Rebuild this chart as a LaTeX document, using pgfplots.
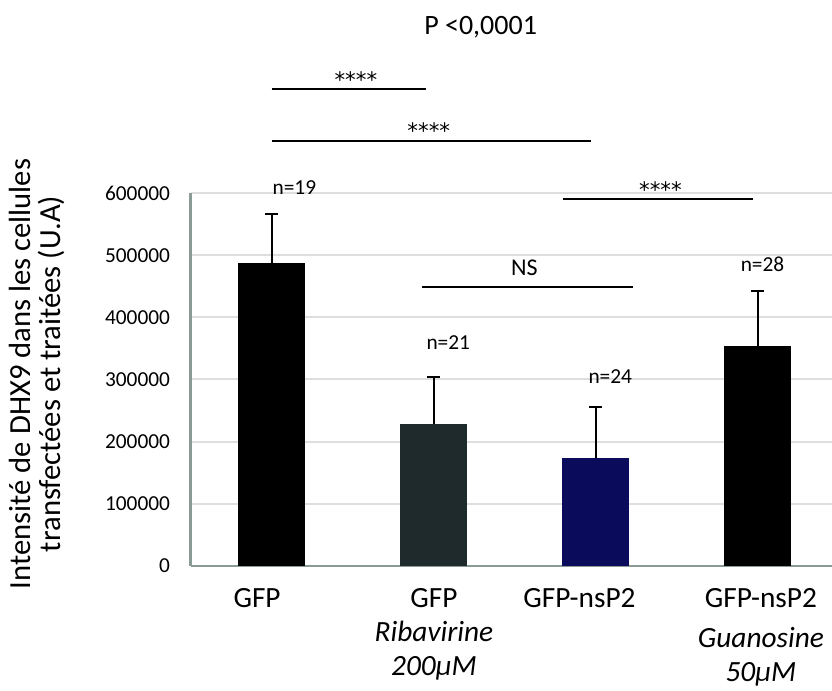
\documentclass[border=0pt]{standalone}
\usepackage{pgfplots}
\pgfplotsset{compat=1.18}
\usepackage{fontspec}
\setmainfont{Carlito}
\newfontfamily\starfont{DejaVu Sans}
\definecolor{axgray}{HTML}{8A9A97}
\definecolor{gridgray}{HTML}{DEDEDE}
\definecolor{ribcol}{HTML}{1E2A2C}
\definecolor{navybar}{HTML}{0B0B5C}
\begin{document}
\begin{tikzpicture}
\begin{axis}[
  scale only axis, width=481pt, height=279.75pt,
  xmin=-0.5, xmax=3.459, ymin=0, ymax=600000,
  clip=false,
  axis x line=bottom, axis y line=left,
  axis line style={draw=axgray, line width=1.9pt, -},
  ytick={0,100000,200000,300000,400000,500000,600000},
  scaled y ticks=false,
  ymajorgrids, grid style={draw=gridgray, line width=1.5pt},
  major tick length=0pt,
  yticklabel style={font=\fontsize{16}{18}\selectfont, /pgf/number format/fixed, /pgf/number format/1000 sep={}, /pgf/number format/assume math mode=true, xshift=-12pt},
  xtick={-0.09,1.002,1.90,3.02},
  xticklabels={GFP, {GFP\\\textit{Ribavirine}\\\textit{200µM}}, GFP-nsP2, {GFP-nsP2\\[5pt]\textit{Guanosine}\\\textit{50µM}}},
  xticklabel style={font=\fontsize{22}{25.5}\selectfont, align=center, anchor=north, yshift=-13pt},
  ylabel={Intensité de DHX9 dans les cellules\\transfectées et traitées (U.A)},
  ylabel style={font=\fontsize{23}{22.5}\selectfont, align=center, at={(axis description cs:-0.2397,0.515)}, anchor=center},
  ybar, bar width=50pt, bar shift=0pt,
]
\addplot[fill=black, draw=none, error bars/.cd, y dir=plus, y explicit, error bar style={line width=1.5pt, black}, error mark options={rotate=90, mark size=5pt, line width=1.5pt, black}] coordinates {(0,486600) +- (0,79400)};
\addplot[fill=ribcol, draw=none, error bars/.cd, y dir=plus, y explicit, error bar style={line width=1.5pt, black}, error mark options={rotate=90, mark size=5pt, line width=1.5pt, black}] coordinates {(1,228000) +- (0,76000)};
\addplot[fill=navybar, draw=none, error bars/.cd, y dir=plus, y explicit, error bar style={line width=1.5pt, black}, error mark options={rotate=90, mark size=5pt, line width=1.5pt, black}] coordinates {(2,173000) +- (0,82000)};
\addplot[fill=black, draw=none, error bars/.cd, y dir=plus, y explicit, error bar style={line width=1.5pt, black}, error mark options={rotate=90, mark size=5pt, line width=1.5pt, black}] coordinates {(3,354000) +- (0,89000)};
% annotations
\draw[line width=1.6pt] (axis cs:0,767000) -- (axis cs:0.953,767000);
\draw[line width=1.6pt] (axis cs:0,683000) -- (axis cs:1.97,683000);
\draw[line width=1.6pt] (axis cs:1.80,590000) -- (axis cs:2.97,590000);
\draw[line width=1.3pt] (axis cs:0.926,448500) -- (axis cs:2.23,448500);
\node[font=\starfont\fontsize{16}{18}\selectfont, anchor=base, inner sep=0pt] at (axis cs:0.52,769000) {****};
\node[font=\starfont\fontsize{16}{18}\selectfont, anchor=base, inner sep=0pt] at (axis cs:0.97,688000) {****};
\node[font=\starfont\fontsize{16}{18}\selectfont, anchor=base, inner sep=0pt] at (axis cs:2.40,593000) {****};
\node[font=\fontsize{18}{20}\selectfont] at (axis cs:1.56,479000) {NS};
\node[font=\fontsize{16}{18}\selectfont] at (axis cs:0.14,609000) {n=19};
\node[font=\fontsize{16}{18}\selectfont] at (axis cs:1.09,360000) {n=21};
\node[font=\fontsize{16}{18}\selectfont] at (axis cs:2.09,304000) {n=24};
\node[font=\fontsize{16}{18}\selectfont] at (axis cs:3.03,485500) {n=28};
\node[font=\fontsize{21}{24}\selectfont] at (axis cs:1.29,866600) {P <0,0001};
\end{axis}
\pgfresetboundingbox
\path (-143pt,-93.75pt) rectangle (481pt,424.5pt);
\end{tikzpicture}
\end{document}
